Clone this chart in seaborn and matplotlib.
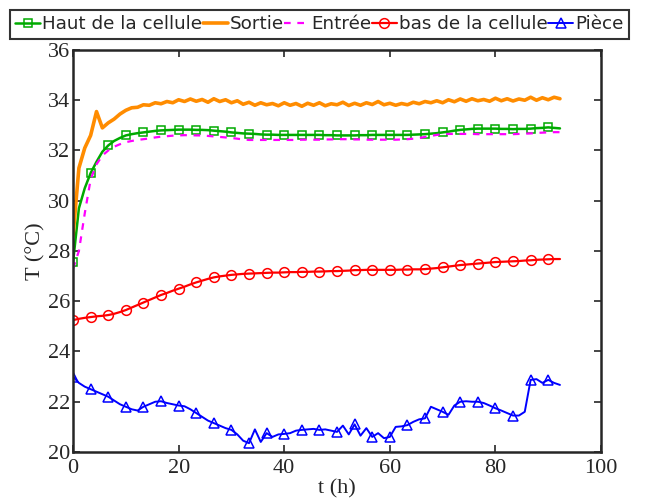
import numpy as np
import pandas as pd
import matplotlib
matplotlib.use("Agg")
import matplotlib.pyplot as plt
import seaborn as sns

sns.set_style("ticks")

# sampling period of the logger (h); sample k is at t = k * DT
DT = 10 / 9

SORTIE = [
    28.6, 31.3, 32.1, 32.6, 33.55, 32.9, 33.1, 33.25, 33.45,
    33.6, 33.7, 33.72, 33.82, 33.8, 33.9, 33.86, 33.95, 33.9,
    34.02, 33.95, 34.05, 33.96, 34.03, 33.92, 34.06, 33.95, 34.02,
    33.9, 33.98, 33.84, 33.92, 33.8, 33.9, 33.82, 33.87, 33.78,
    33.9, 33.8, 33.87, 33.76, 33.88, 33.8, 33.9, 33.78, 33.86,
    33.82, 33.92, 33.79, 33.88, 33.8, 33.9, 33.83, 33.95, 33.82,
    33.88, 33.8, 33.87, 33.82, 33.92, 33.86, 33.95, 33.9, 33.98,
    33.9, 34.02, 33.94, 34.05, 33.96, 34.06, 33.98, 34.03, 33.96,
    34.08, 33.98, 34.06, 33.97, 34.05, 34.0, 34.12, 34.0, 34.1,
    34.02, 34.12, 34.06,
]
HAUT = [
    27.55, 29.7, 30.5, 31.1, 31.55, 31.95, 32.2, 32.38, 32.5,
    32.6, 32.65, 32.69, 32.72, 32.75, 32.78, 32.8, 32.81, 32.82,
    32.83, 32.83, 32.83, 32.82, 32.82, 32.81, 32.79, 32.77, 32.75,
    32.72, 32.7, 32.68, 32.67, 32.66, 32.64, 32.63, 32.63, 32.62,
    32.62, 32.62, 32.62, 32.62, 32.62, 32.62, 32.62, 32.61, 32.61,
    32.6, 32.6, 32.6, 32.6, 32.61, 32.61, 32.62, 32.62, 32.62,
    32.62, 32.62, 32.62, 32.62, 32.63, 32.64, 32.65, 32.67, 32.69,
    32.72, 32.75, 32.79, 32.82, 32.84, 32.86, 32.87, 32.87, 32.87,
    32.87, 32.86, 32.86, 32.85, 32.86, 32.86, 32.87, 32.89, 32.9,
    32.92, 32.9, 32.88,
]
ENTREE = [
    27.3, 28.0, 29.5, 30.85, 31.45, 31.8, 32.0, 32.15, 32.25,
    32.33, 32.38, 32.42, 32.45, 32.48, 32.52, 32.55, 32.57, 32.59,
    32.6, 32.61, 32.61, 32.6, 32.6, 32.58, 32.56, 32.54, 32.52,
    32.5, 32.47, 32.44, 32.42, 32.42, 32.42, 32.42, 32.42, 32.42,
    32.42, 32.42, 32.42, 32.43, 32.43, 32.43, 32.43, 32.44, 32.44,
    32.45, 32.45, 32.45, 32.44, 32.44, 32.43, 32.43, 32.43, 32.43,
    32.43, 32.43, 32.44, 32.45, 32.47, 32.5, 32.54, 32.58, 32.62,
    32.65, 32.66, 32.66, 32.66, 32.66, 32.66, 32.65, 32.65, 32.65,
    32.65, 32.65, 32.65, 32.65, 32.66, 32.67, 32.68, 32.7, 32.71,
    32.72, 32.73, 32.73,
]
BAS = [
    25.25, 25.3, 25.34, 25.37, 25.4, 25.42, 25.45, 25.5, 25.57,
    25.65, 25.75, 25.85, 25.95, 26.05, 26.15, 26.25, 26.33, 26.42,
    26.5, 26.58, 26.67, 26.75, 26.82, 26.89, 26.95, 26.99, 27.02,
    27.05, 27.07, 27.09, 27.1, 27.11, 27.12, 27.13, 27.14, 27.14,
    27.15, 27.16, 27.16, 27.17, 27.17, 27.18, 27.18, 27.19, 27.2,
    27.2, 27.21, 27.22, 27.24, 27.24, 27.25, 27.25, 27.25, 27.25,
    27.25, 27.25, 27.26, 27.26, 27.27, 27.27, 27.28, 27.3, 27.32,
    27.35, 27.38, 27.41, 27.44, 27.46, 27.48, 27.5, 27.52, 27.54,
    27.56, 27.57, 27.58, 27.59, 27.6, 27.62, 27.63, 27.65, 27.66,
    27.67, 27.68, 27.68,
]
PIECE = [
    23.0, 22.75, 22.6, 22.5, 22.4, 22.3, 22.2, 22.05, 21.9,
    21.8, 21.7, 21.65, 21.8, 21.9, 22.0, 22.02, 21.95, 21.9,
    21.85, 21.82, 21.7, 21.55, 21.4, 21.25, 21.15, 21.05, 20.95,
    20.88, 20.7, 20.45, 20.35, 20.9, 20.4, 20.75, 20.6, 20.7,
    20.72, 20.75, 20.85, 20.88, 20.9, 20.92, 20.88, 20.9, 20.85,
    20.8, 21.05, 20.7, 21.1, 20.65, 20.95, 20.6, 20.75, 20.55,
    20.6, 21.0, 21.02, 21.07, 21.2, 21.3, 21.34, 21.8, 21.7,
    21.6, 21.48, 21.85, 22.0, 22.02, 22.0, 22.0, 21.95, 21.85,
    21.74, 21.65, 21.55, 21.45, 21.45, 21.6, 22.87, 22.9, 22.75,
    22.87, 22.75, 22.67,
]

LABELS = ["Haut de la cellule", "Sortie", "Entrée", "bas de la cellule", "Pièce"]
X_TICKS = [0, 20, 40, 60, 80, 100]
Y_TICKS = [20, 22, 24, 26, 28, 30, 32, 34, 36]

t = np.arange(len(HAUT)) * DT
df = pd.DataFrame({"t": t, "haut": HAUT, "sortie": SORTIE, "entree": ENTREE,
                   "bas": BAS, "piece": PIECE})

fig = plt.figure(figsize=(6.55, 4.99), dpi=100)
ax = fig.add_axes([0.1115, 0.0942, 0.8061, 0.8056])

serif = "Liberation Serif"


def mk(color, marker, ms):
    return dict(color=color, marker=marker, markersize=ms, markerfacecolor="none",
                markeredgecolor=color, markeredgewidth=1.1, markevery=3)


styles = [
    ("haut", dict(linewidth=1.8, **mk("#00aa00", "s", 5.5))),
    ("sortie", dict(color="#ff8c00", linewidth=2.6)),
    ("entree", dict(color="#ff00ff", linewidth=1.6, linestyle=(0, (3, 3)))),
    ("bas", dict(linewidth=1.6, **mk("#ff0000", "o", 7))),
    ("piece", dict(linewidth=1.4, **mk("#0000ff", "^", 7))),
]
for (col, kw), lab in zip(styles, LABELS):
    sns.lineplot(data=df, x="t", y=col, ax=ax, label=lab, legend=False, **kw)

ax.set_xlim(0, 100)
ax.set_ylim(20, 36)
ax.set_xticks(X_TICKS)
ax.set_yticks(Y_TICKS)
ax.tick_params(direction="in", top=True, right=True, length=5, width=1.2,
               labelsize=16)
ax.tick_params(axis="x", pad=5)
ax.tick_params(axis="y", pad=2)
for lab in ax.get_xticklabels() + ax.get_yticklabels():
    lab.set_family(serif)
for s in ax.spines.values():
    s.set_linewidth(1.8)
    s.set_visible(True)
ax.set_xlabel("t (h)", family=serif, fontsize=16, labelpad=1)
ax.set_ylabel("T (°C)", family=serif, fontsize=16, labelpad=2)

handles, labels = ax.get_legend_handles_labels()
leg = fig.legend(handles, labels, loc="upper left", bbox_to_anchor=(0.015, 0.98),
                 ncol=5, frameon=True, fancybox=False, handlelength=1.35,
                 handletextpad=0.1, columnspacing=0.05, borderpad=0.3,
                 borderaxespad=0, prop={"family": "DejaVu Sans", "size": 13.2})
leg.get_frame().set_edgecolor("black")
leg.get_frame().set_linewidth(1.5)

fig.savefig("out.png", dpi=100)
